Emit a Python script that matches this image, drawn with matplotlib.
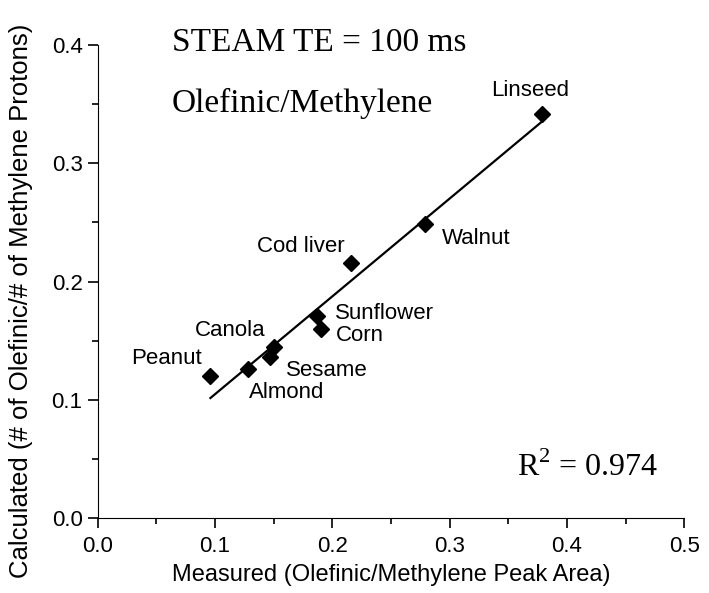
import matplotlib
matplotlib.use('Agg')
import matplotlib.pyplot as plt
import numpy as np
from matplotlib.ticker import MultipleLocator, FormatStrFormatter

plt.rcParams['mathtext.fontset'] = 'custom'
plt.rcParams['mathtext.rm'] = 'Liberation Serif'

# oils, measured vs calculated olefinic/methylene ratio
oils = ["Linseed", "Walnut", "Cod liver", "Sunflower", "Corn",
        "Canola", "Sesame", "Almond", "Peanut"]
measured = [0.379, 0.279, 0.216, 0.187, 0.190, 0.150, 0.147, 0.128, 0.096]
calculated = [0.342, 0.2485, 0.2156, 0.171, 0.160, 0.145, 0.136, 0.126, 0.120]

# label offsets in points and alignment
label_offsets = {"Linseed": (-9, 17, 'center'), "Walnut": (12, -10, 'left'),
                 "Cod liver": (-5, 12, 'right'), "Sunflower": (13, 2, 'left'),
                 "Corn": (11, -5, 'left'), "Canola": (-6, 11.5, 'right'),
                 "Sesame": (11, -9.5, 'left'), "Almond": (1, -17, 'left'),
                 "Peanut": (-6, 13, 'right')}

sans = 'Liberation Sans'
serif = 'Liberation Serif'

fig = plt.figure(figsize=(7.09, 5.93), dpi=100)
ax = fig.add_axes([0.138, 0.1265, 0.827, 0.7975])

# linear fit line over the data range
slope, intercept = np.polyfit(measured, calculated, 1)
xfit = np.array([min(measured), max(measured)])
ax.plot(xfit, slope * xfit + intercept, color='black', lw=1.6, zorder=2)

ax.plot(measured, calculated, 'D', color='black', markersize=8.5, zorder=3)

for name, x, y in zip(oils, measured, calculated):
    dx, dy, ha = label_offsets[name]
    ax.annotate(name, xy=(x, y), xytext=(dx, dy), textcoords='offset points',
                ha=ha, va='center', fontsize=16, family=sans)

ax.set_xlim(0, 0.5)
ax.set_ylim(0, 0.4)
ax.xaxis.set_major_locator(MultipleLocator(0.1))
ax.xaxis.set_minor_locator(MultipleLocator(0.05))
ax.yaxis.set_major_locator(MultipleLocator(0.1))
ax.yaxis.set_minor_locator(MultipleLocator(0.05))
ax.xaxis.set_major_formatter(FormatStrFormatter('%.1f'))
ax.yaxis.set_major_formatter(FormatStrFormatter('%.1f'))

ax.spines['top'].set_visible(False)
ax.spines['right'].set_visible(False)
ax.tick_params(which='major', direction='out', length=7, width=1.2)
ax.tick_params(which='minor', direction='out', length=4.5, width=1.2)
ax.tick_params(axis='x', pad=6)
ax.tick_params(axis='y', pad=4)
for lab in ax.get_xticklabels() + ax.get_yticklabels():
    lab.set_family(sans)
    lab.set_fontsize(16)

ax.set_xlabel('Measured (Olefinic/Methylene Peak Area)', family=sans, fontsize=17, labelpad=5)
ax.set_ylabel('Calculated (# of Olefinic/# of Methylene Protons)', family=sans, fontsize=18.5)
ax.yaxis.set_label_coords(-0.111, 0.46)

ax.text(0.126, 1.004, 'STEAM TE = 100 ms', transform=ax.transAxes, family=serif,
        fontsize=24, va='center', ha='left')
ax.text(0.126, 0.877, 'Olefinic/Methylene', transform=ax.transAxes, family=serif,
        fontsize=24, va='center', ha='left')
ax.text(0.715, 0.108, r'R$^{2}$ = 0.974', transform=ax.transAxes, family=serif,
        fontsize=23, va='center', ha='left')

fig.savefig('out.png', dpi=100)
